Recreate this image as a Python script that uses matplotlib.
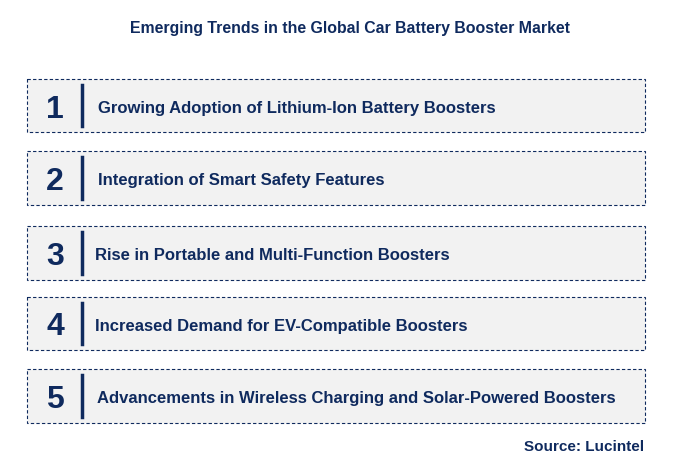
import matplotlib.pyplot as plt
from matplotlib.patches import Rectangle

title = "Emerging Trends in the Global Car Battery Booster Market"
numbers = ["1", "2", "3", "4", "5"]
trends = [
    "Growing Adoption of Lithium-Ion Battery Boosters",
    "Integration of Smart Safety Features",
    "Rise in Portable and Multi-Function Boosters",
    "Increased Demand for EV-Compatible Boosters",
    "Advancements in Wireless Charging and Solar-Powered Boosters",
]
box_tops = [80, 152, 227, 298, 370]
box_bottoms = [133, 206, 281, 351, 424]
text_x = [98, 98, 95, 95, 97]

navy = "#0f2a5e"
W, H = 680, 460

fig = plt.figure(figsize=(W / 100, H / 100), dpi=100)
ax = fig.add_axes([0, 0, 1, 1])
ax.set_xlim(0, W)
ax.set_ylim(H, 0)
ax.axis("off")

ax.text(350, 29, title, ha="center", va="center", fontsize=11.4,
        fontweight="bold", color=navy, family="Liberation Sans")

for num, label, top, bot, tx in zip(numbers, trends, box_tops, box_bottoms, text_x):
    ax.add_patch(Rectangle((27, top), 618, bot - top, facecolor="#f2f2f2",
                           edgecolor=navy, linestyle=(0, (3, 2)), linewidth=0.8))
    mid = (top + bot) / 2
    ax.text(55, mid + 3, num, ha="center", va="center", fontsize=23,
            fontweight="bold", color=navy, family="Liberation Sans")
    ax.plot([82, 82], [top + 6, bot - 6], color=navy, linewidth=2.5)
    ax.text(tx, mid + 2, label, ha="left", va="center", fontsize=12,
            fontweight="bold", color=navy, family="Liberation Sans")

ax.text(644, 447, "Source: Lucintel", ha="right", va="center", fontsize=11,
        fontweight="bold", color=navy, family="Liberation Sans")

fig.savefig("out.png", dpi=100)
